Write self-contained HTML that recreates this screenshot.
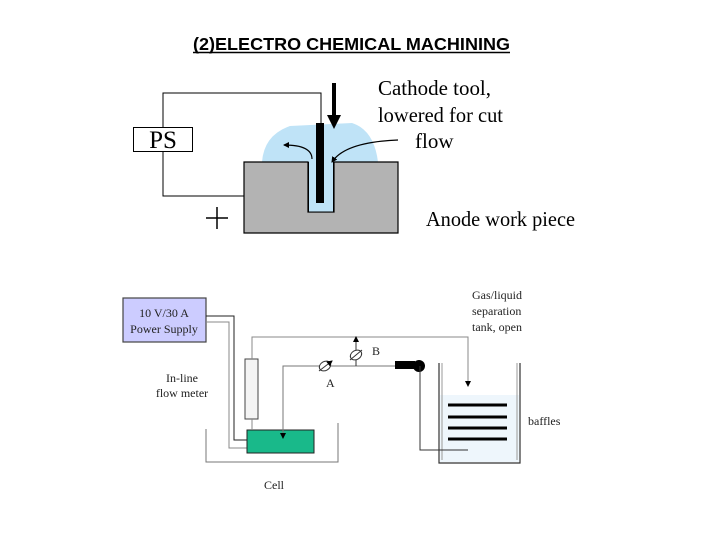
<!DOCTYPE html>
<html><head><meta charset="utf-8"><style>body{margin:0;background:#fff}svg{display:block}</style></head>
<body>
<svg width="720" height="540" viewBox="0 0 720 540" xmlns="http://www.w3.org/2000/svg">
<defs>
<marker id="ah" markerWidth="14" markerHeight="14" refX="7" refY="7" orient="auto" markerUnits="userSpaceOnUse"><path d="M0,0L14,7L0,14z" fill="#000"/></marker>
<marker id="as" markerWidth="6" markerHeight="6" refX="5" refY="3" orient="auto" markerUnits="userSpaceOnUse"><path d="M0,0L6,3L0,6z" fill="#000"/></marker>
</defs>
<text x="193" y="50" textLength="317" lengthAdjust="spacingAndGlyphs" font-family="Liberation Sans, sans-serif" font-size="17.5" font-weight="bold">(2)ELECTRO CHEMICAL MACHINING</text>
<line x1="193" y1="52.5" x2="510" y2="52.5" stroke="#000" stroke-width="1.5"/>
<!-- top diagram -->
<path d="M262,162 Q264,135 290,126 L352,123 Q374,130 378,162 Z" fill="#bfe3f7"/>
<path d="M244,162 H308 V212 H334 V162 H398 V233 H244 Z" fill="#b3b3b3" stroke="#000" stroke-width="1.2"/>
<rect x="308.5" y="162" width="25" height="50" fill="#bfe3f7"/>
<path d="M308.5,162 V212 H333.5 V162" fill="none" stroke="#000" stroke-width="1"/>
<rect x="316" y="123" width="8" height="80" fill="#000"/>
<polyline points="163,127 163,93 321,93 321,123" fill="none" stroke="#000" stroke-width="1"/>
<polyline points="163,151 163,196 244,196" fill="none" stroke="#000" stroke-width="1"/>
<rect x="133.5" y="127.5" width="59" height="24" fill="#fff" stroke="#000" stroke-width="1"/>
<text x="163" y="148" font-family="Liberation Serif, serif" font-size="25" text-anchor="middle">PS</text>
<line x1="334" y1="83" x2="334" y2="122" stroke="#000" stroke-width="4" marker-end="url(#ah)"/>
<path d="M312,159 Q312,145 284,145" fill="none" stroke="#000" stroke-width="1.2" marker-end="url(#as)"/>
<path d="M398,140 Q345,142 332,162" fill="none" stroke="#000" stroke-width="1.2" marker-end="url(#as)"/>
<line x1="206" y1="218" x2="228" y2="218" stroke="#000" stroke-width="1.5"/>
<line x1="217" y1="207" x2="217" y2="229" stroke="#000" stroke-width="1.5"/>
<g font-family="Liberation Serif, serif" font-size="21">
<text x="378" y="95" textLength="113" lengthAdjust="spacingAndGlyphs">Cathode tool,</text>
<text x="378" y="122" textLength="125" lengthAdjust="spacingAndGlyphs">lowered for cut</text>
<text x="415" y="148">flow</text>
<text x="426" y="226" textLength="149" lengthAdjust="spacingAndGlyphs">Anode work piece</text>
</g>
<!-- bottom diagram -->
<rect x="123" y="298" width="83" height="44" fill="#ccccff" stroke="#444" stroke-width="1.2"/>
<g font-family="Liberation Serif, serif" font-size="12" fill="#222">
<text x="164" y="317" text-anchor="middle">10 V/30 A</text>
<text x="164" y="333" text-anchor="middle">Power Supply</text>
<text x="182" y="382" text-anchor="middle">In-line</text>
<text x="182" y="397" text-anchor="middle">flow meter</text>
<text x="274" y="489" text-anchor="middle">Cell</text>
<text x="326" y="387">A</text>
<text x="372" y="355">B</text>
<text x="472" y="299">Gas/liquid</text>
<text x="472" y="315">separation</text>
<text x="472" y="331">tank, open</text>
<text x="528" y="425">baffles</text>
</g>
<polyline points="206,316 234,316 234,440 247,440" fill="none" stroke="#222" stroke-width="1"/>
<polyline points="206,322 229,322 229,448 247,448" fill="none" stroke="#888" stroke-width="1"/>
<rect x="245" y="359" width="13" height="60" fill="#f4f4f4" stroke="#444" stroke-width="1"/>
<polyline points="206,429 206,462 338,462 338,423" fill="none" stroke="#777" stroke-width="1"/>
<rect x="247" y="430" width="67" height="23" fill="#19b98a" stroke="#222" stroke-width="1"/>
<polyline points="252,359 252,337 468,337 468,386" fill="none" stroke="#888" stroke-width="1" marker-end="url(#as)"/>
<line x1="252" y1="419" x2="252" y2="430" stroke="#888" stroke-width="1"/>
<polyline points="395,366 283,366 283,438" fill="none" stroke="#777" stroke-width="1" marker-end="url(#as)"/>
<ellipse cx="325" cy="366" rx="6" ry="4.5" fill="#fff" stroke="#333" transform="rotate(-30 325 366)"/>
<line x1="319" y1="371" x2="332" y2="361" stroke="#333" marker-end="url(#as)"/>
<line x1="356" y1="366" x2="356" y2="337" stroke="#333" marker-end="url(#as)"/>
<ellipse cx="356" cy="355" rx="6" ry="4.5" fill="#fff" stroke="#333" transform="rotate(-30 356 355)"/>
<line x1="350" y1="360" x2="362" y2="350" stroke="#333"/>
<rect x="440" y="395" width="79" height="67" fill="#eef6fc"/>
<polyline points="439,363 439,463 520,463 520,363" fill="none" stroke="#333" stroke-width="1.2"/>
<line x1="442" y1="363" x2="442" y2="460" stroke="#999"/><line x1="517" y1="363" x2="517" y2="460" stroke="#999"/>
<rect x="395" y="361" width="20" height="8" fill="#000"/>
<circle cx="419" cy="366" r="6" fill="#000"/>
<polyline points="420,366 420,450 468,450" fill="none" stroke="#333" stroke-width="1"/>
<g stroke="#000" stroke-width="3"><line x1="448" y1="405" x2="507" y2="405"/><line x1="448" y1="417" x2="507" y2="417"/><line x1="448" y1="428" x2="507" y2="428"/><line x1="448" y1="439" x2="507" y2="439"/></g>
</svg>
</body></html>
